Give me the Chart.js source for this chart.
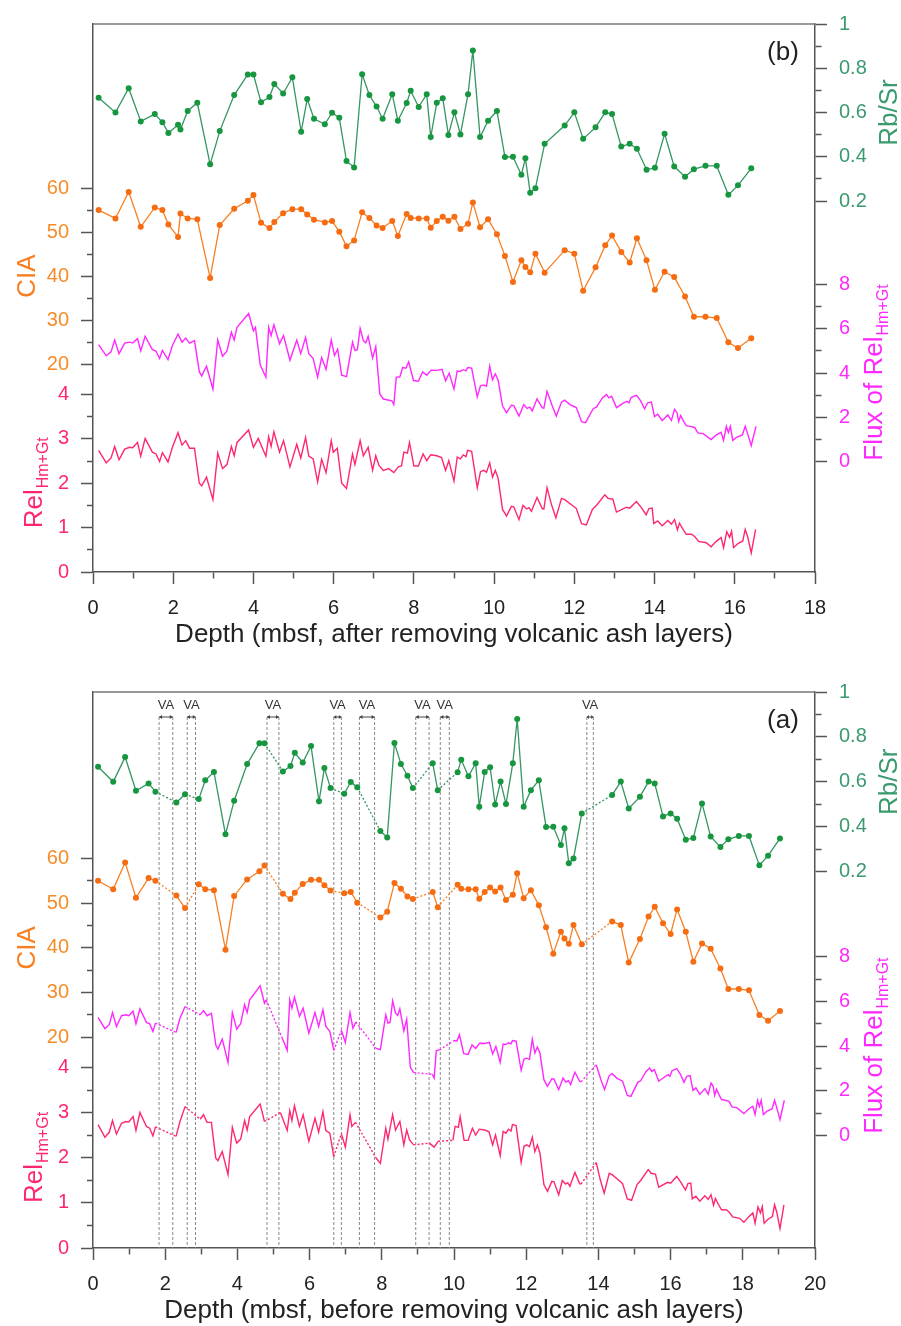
<!DOCTYPE html>
<html>
<head>
<meta charset="utf-8">
<script src="https://cdn.jsdelivr.net/npm/chart.js@4.4.1/dist/chart.umd.min.js"></script>
<style>
  body { margin: 0; background: #fff; }
  canvas { display: block; }
</style>
</head>
<body>
<canvas id="chartB" width="901" height="663"></canvas>
<canvas id="chartA" width="901" height="663"></canvas>
<script>
// ---- data, depth in mbsf after removing the ash layers (panel b) ----
const depthPts = [0.14, 0.56, 0.89, 1.19, 1.54, 1.73, 1.88, 2.12, 2.18, 2.36,
  2.60, 2.92, 3.16, 3.52, 3.86, 4.00, 4.19, 4.40, 4.52, 4.74,
  4.97, 5.19, 5.34, 5.51, 5.78, 5.96, 6.14, 6.32, 6.51, 6.71,
  6.89, 7.07, 7.22, 7.46, 7.60, 7.82, 7.92, 8.12, 8.32, 8.42,
  8.57, 8.72, 8.86, 9.01, 9.16, 9.35, 9.47, 9.65, 9.85, 10.07,
  10.27, 10.47, 10.68, 10.78, 10.90, 11.03, 11.26, 11.76, 12.00, 12.22,
  12.53, 12.77, 12.94, 13.17, 13.38, 13.56, 13.80, 14.01, 14.25, 14.49,
  14.76, 14.98, 15.27, 15.55, 15.84, 16.08, 16.41];
const rbsr = [0.667, 0.600, 0.710, 0.560, 0.593, 0.556, 0.508, 0.545, 0.523, 0.607,
  0.644, 0.366, 0.516, 0.679, 0.772, 0.772, 0.646, 0.670, 0.729, 0.686,
  0.759, 0.513, 0.661, 0.572, 0.547, 0.599, 0.576, 0.381, 0.352, 0.773,
  0.679, 0.627, 0.572, 0.683, 0.563, 0.643, 0.698, 0.625, 0.683, 0.489,
  0.644, 0.665, 0.499, 0.601, 0.501, 0.683, 0.880, 0.489, 0.563, 0.607,
  0.399, 0.400, 0.319, 0.393, 0.237, 0.258, 0.459, 0.541, 0.601, 0.481,
  0.533, 0.601, 0.593, 0.446, 0.459, 0.436, 0.342, 0.350, 0.504, 0.356,
  0.310, 0.344, 0.359, 0.359, 0.228, 0.271, 0.348];
const cia = [55.0, 53.1, 59.1, 51.2, 55.6, 55.0, 51.7, 48.9, 54.2, 53.1,
  52.9, 39.6, 51.6, 55.3, 57.1, 58.4, 52.1, 50.9, 52.3, 54.3,
  55.2, 55.2, 54.0, 52.8, 52.2, 52.5, 50.1, 46.8, 48.1, 54.5,
  53.2, 51.5, 50.9, 52.5, 49.1, 54.1, 53.2, 53.1, 53.1, 51.0,
  52.5, 53.5, 52.6, 53.5, 50.7, 51.9, 56.7, 51.1, 52.9, 49.5,
  44.6, 38.7, 43.6, 42.1, 40.9, 45.1, 40.8, 45.9, 45.1, 36.7,
  42.0, 47.0, 49.2, 45.5, 43.1, 48.6, 43.6, 36.9, 41.0, 39.8,
  35.4, 30.8, 30.8, 30.5, 25.0, 23.7, 25.9];

const depthFlux = [0.14, 0.33, 0.45, 0.54, 0.65, 0.79, 0.91, 0.99, 1.11, 1.19,
  1.30, 1.48, 1.57, 1.66, 1.73, 1.87, 1.98, 2.12, 2.22, 2.31,
  2.41, 2.53, 2.65, 2.71, 2.83, 2.99, 3.11, 3.23, 3.34, 3.45,
  3.52, 3.59, 3.88, 4.00, 4.05, 4.17, 4.31, 4.38, 4.44, 4.51,
  4.65, 4.75, 4.91, 5.08, 5.18, 5.30, 5.38, 5.49, 5.60, 5.70,
  5.81, 5.94, 6.02, 6.10, 6.20, 6.32, 6.47, 6.53, 6.59, 6.66,
  6.74, 6.80, 6.86, 6.97, 7.05, 7.15, 7.24, 7.45, 7.50, 7.56,
  7.65, 7.72, 7.80, 7.87, 7.99, 8.11, 8.22, 8.32, 8.43, 8.57,
  8.70, 8.79, 8.88, 9.00, 9.08, 9.15, 9.23, 9.30, 9.34, 9.44,
  9.58, 9.66, 9.74, 9.81, 9.89, 9.96, 10.03, 10.10, 10.21, 10.31,
  10.43, 10.49, 10.62, 10.74, 10.82, 10.89, 10.95, 11.07, 11.20, 11.24,
  11.32, 11.45, 11.55, 11.68, 11.76, 11.89, 12.05, 12.18, 12.28, 12.47,
  12.55, 12.70, 12.80, 12.86, 12.93, 13.05, 13.21, 13.31, 13.36, 13.42,
  13.55, 13.65, 13.75, 13.83, 13.92, 14.00, 14.08, 14.19, 14.33, 14.42,
  14.50, 14.56, 14.60, 14.65, 14.72, 14.79, 14.89, 15.00, 15.08, 15.21,
  15.41, 15.54, 15.66, 15.72, 15.79, 15.84, 15.89, 15.95, 16.04, 16.19,
  16.26, 16.32, 16.41, 16.53];
const fluxRel = [5.29, 4.78, 4.96, 5.50, 4.88, 5.36, 5.40, 5.36, 5.56, 5.00,
  5.67, 5.06, 5.00, 4.66, 5.03, 4.61, 5.25, 5.77, 5.40, 5.59,
  5.36, 5.47, 4.06, 3.87, 4.31, 3.27, 5.50, 4.76, 5.00, 5.85,
  5.50, 6.07, 6.70, 5.92, 6.07, 4.36, 3.81, 6.07, 5.70, 6.19,
  5.33, 5.70, 4.58, 5.50, 4.88, 5.62, 4.88, 4.66, 3.81, 4.70,
  4.17, 5.50, 4.80, 5.08, 3.90, 3.84, 5.40, 5.03, 5.06, 6.03,
  5.47, 5.37, 5.67, 4.68, 5.20, 3.05, 2.82, 2.74, 2.57, 3.80,
  3.83, 4.25, 4.22, 4.51, 3.66, 3.63, 4.05, 3.90, 4.13, 4.12,
  4.17, 3.65, 3.99, 3.27, 4.09, 4.07, 4.15, 4.10, 4.25, 4.22,
  2.92, 3.42, 3.46, 3.40, 4.31, 3.69, 3.96, 3.69, 2.50, 2.20,
  2.54, 2.52, 2.05, 2.57, 2.39, 2.45, 2.28, 2.83, 2.43, 2.40,
  3.17, 2.50, 2.05, 2.68, 2.77, 2.57, 2.43, 1.79, 1.75, 2.38,
  2.45, 2.87, 3.02, 2.87, 2.95, 2.43, 2.62, 2.72, 2.65, 2.90,
  2.99, 2.75, 2.38, 2.65, 2.68, 2.02, 2.13, 1.84, 2.10, 1.85,
  2.35, 2.20, 1.80, 2.07, 1.83, 1.61, 1.58, 1.53, 1.28, 1.25,
  0.98, 1.19, 1.31, 0.94, 1.58, 1.30, 1.58, 0.94, 1.08, 1.19,
  1.58, 1.25, 0.71, 1.58];

const depthRel = [0.14, 0.33, 0.45, 0.54, 0.65, 0.79, 0.91, 0.99, 1.11, 1.19,
  1.30, 1.48, 1.57, 1.66, 1.73, 1.87, 1.98, 2.12, 2.22, 2.31,
  2.41, 2.53, 2.65, 2.71, 2.83, 2.99, 3.11, 3.23, 3.34, 3.45,
  3.52, 3.59, 3.88, 4.00, 4.12, 4.31, 4.38, 4.44, 4.51, 4.65,
  4.75, 4.91, 5.08, 5.18, 5.30, 5.38, 5.49, 5.60, 5.70, 5.81,
  5.94, 5.99, 6.09, 6.20, 6.32, 6.47, 6.53, 6.66, 6.74, 6.86,
  6.97, 7.05, 7.13, 7.24, 7.37, 7.50, 7.61, 7.69, 7.75, 7.84,
  7.89, 8.00, 8.11, 8.23, 8.32, 8.42, 8.57, 8.69, 8.79, 8.87,
  9.00, 9.08, 9.16, 9.23, 9.30, 9.34, 9.44, 9.58, 9.66, 9.74,
  9.81, 9.89, 9.96, 10.03, 10.10, 10.21, 10.31, 10.43, 10.49, 10.62,
  10.72, 10.81, 10.87, 10.93, 11.07, 11.20, 11.24, 11.32, 11.43, 11.54,
  11.68, 11.76, 12.01, 12.05, 12.18, 12.30, 12.45, 12.55, 12.76, 12.84,
  12.96, 13.05, 13.30, 13.38, 13.55, 13.67, 13.79, 13.86, 13.94, 13.98,
  14.08, 14.19, 14.33, 14.42, 14.50, 14.57, 14.62, 14.71, 14.79, 14.92,
  15.00, 15.10, 15.29, 15.41, 15.54, 15.66, 15.72, 15.80, 15.87, 15.92,
  15.97, 16.08, 16.20, 16.26, 16.32, 16.41, 16.52];
const relHmGt = [2.74, 2.46, 2.57, 2.83, 2.53, 2.77, 2.81, 2.80, 2.92, 2.61,
  3.01, 2.70, 2.66, 2.49, 2.69, 2.48, 2.81, 3.14, 2.86, 2.96,
  2.79, 2.79, 2.00, 1.94, 2.14, 1.63, 2.68, 2.33, 2.42, 2.83,
  2.62, 2.92, 3.20, 2.81, 3.01, 2.61, 3.05, 2.83, 3.16, 2.70,
  2.96, 2.37, 2.88, 2.57, 3.03, 2.61, 2.55, 2.03, 2.54, 2.24,
  2.96, 2.70, 2.79, 2.00, 1.88, 2.66, 2.42, 2.96, 2.62, 2.81,
  2.29, 2.62, 2.40, 2.29, 2.33, 2.24, 2.37, 2.39, 2.70, 2.68,
  2.92, 2.39, 2.39, 2.66, 2.51, 2.64, 2.62, 2.58, 2.29, 2.51,
  2.05, 2.59, 2.55, 2.64, 2.60, 2.74, 2.72, 1.90, 2.26, 2.29,
  2.25, 2.46, 2.14, 2.29, 2.11, 1.41, 1.26, 1.48, 1.47, 1.18,
  1.50, 1.42, 1.45, 1.37, 1.68, 1.43, 1.42, 1.90, 1.52, 1.22,
  1.66, 1.63, 1.46, 1.43, 1.09, 1.06, 1.41, 1.50, 1.74, 1.66,
  1.64, 1.35, 1.46, 1.44, 1.59, 1.45, 1.29, 1.43, 1.44, 1.09,
  1.15, 1.04, 1.16, 1.08, 1.18, 0.95, 1.10, 0.96, 0.85, 0.85,
  0.80, 0.69, 0.66, 0.57, 0.69, 0.78, 0.55, 0.91, 0.78, 0.92,
  0.55, 0.64, 0.70, 0.96, 0.80, 0.43, 0.96];

// volcanic ash layers: drawn intervals in panel (a) depth
const vaStart = [1.83, 2.61, 4.82, 6.67, 7.38, 8.94, 9.62, 13.68];
const vaEnd   = [2.21, 2.84, 5.15, 6.88, 7.80, 9.31, 9.87, 13.86];
// where each layer was cut out in panel (b) depth, and the total depth added back below it
const vaBreakB = [1.80, 2.15, 4.10, 5.65, 6.17, 7.30, 7.65, 11.30];
const vaShift  = [0.43, 0.75, 1.07, 1.18, 1.64, 1.95, 2.28, 2.62];

// ticks
const relMajor = [0, 1, 2, 3, 4], relMinor = [0.5, 1.5, 2.5, 3.5];
const ciaMajor = [20, 30, 40, 50, 60], ciaMinor = [25, 35, 45, 55];
const rbMajor = [0.2, 0.4, 0.6, 0.8, 1], rbMinor = [0.3, 0.5, 0.7, 0.9];
const fluxMajor = [0, 2, 4, 6, 8], fluxMinor = [1, 3, 5, 7];
const xMajorB = [0, 2, 4, 6, 8, 10, 12, 14, 16, 18], xMinorB = [1, 3, 5, 7, 9, 11, 13, 15, 17];
const xMajorA = [0, 2, 4, 6, 8, 10, 12, 14, 16, 18, 20], xMinorA = [1, 3, 5, 7, 9, 11, 13, 15, 17, 19];

// all four y axes share the same plot height
const REL_RANGE = [0, 12.35];
const CIA_RANGE = [-27.1, 97.2];
const RB_RANGE = [-1.476, 1];
const FLUX_RANGE = [-5.03, 19.84];

const FONT = '"Liberation Sans", Arial, Helvetica, sans-serif';
const GREEN_LINE = 'rgb(52,150,98)', GREEN_PT = 'rgb(22,150,62)', GREEN_TXT = 'rgb(58,154,110)';
const ORANGE_LINE = 'rgb(247,128,36)', ORANGE_PT = 'rgb(245,108,18)', ORANGE_TXT = 'rgb(246,140,40)';
const MAGENTA = 'rgb(255,40,255)';
const ROSE = 'rgb(255,40,110)';
const AXIS = '#555';

Chart.defaults.font.family = FONT;

function remap(v, from, to) {
  return to[0] + (v - from[0]) / (from[1] - from[0]) * (to[1] - to[0]);
}
function layerCount(d) {
  return vaBreakB.filter(b => d > b).length;
}
function toDepthA(d) {
  const n = layerCount(d);
  return n ? d + vaShift[n - 1] : d;
}
function points(depths, vals, before) {
  return depths.map((d, i) => ({ x: before ? toDepthA(d) : d, y: vals[i] }));
}
function dashAcross(depths) {
  return ctx => layerCount(depths[ctx.p0DataIndex]) !== layerCount(depths[ctx.p1DataIndex]) ? [2, 2] : undefined;
}
function tickSet(major, minor, color, conv) {
  return major.map(v => ({ value: conv(v), lbl: String(v), mnr: false, c: color }))
    .concat(minor.map(v => ({ value: conv(v), lbl: '', mnr: true, c: color })));
}

function vtitle(ctx, x, yc, main, sub, color) {
  ctx.save();
  ctx.fillStyle = color;
  ctx.font = `26px ${FONT}`;
  const wm = ctx.measureText(main).width;
  let ws = 0;
  if (sub) { ctx.font = `16px ${FONT}`; ws = ctx.measureText(sub).width; }
  ctx.translate(x, yc);
  ctx.rotate(-Math.PI / 2);
  ctx.textAlign = 'left';
  ctx.textBaseline = 'alphabetic';
  const x0 = -(wm + ws) / 2;
  ctx.font = `26px ${FONT}`;
  ctx.fillText(main, x0, 0);
  if (sub) { ctx.font = `16px ${FONT}`; ctx.fillText(sub, x0 + wm + 1, 6); }
  ctx.restore();
}

function drawVA(chart) {
  const { ctx, chartArea: ca, scales: { x } } = chart;
  const yArrow = ca.top + 25;
  ctx.save();
  vaStart.forEach((s0, i) => {
    const xs = x.getPixelForValue(s0), xe = x.getPixelForValue(vaEnd[i]);
    ctx.strokeStyle = '#888';
    ctx.lineWidth = 1;
    ctx.setLineDash([3, 2]);
    [xs, xe].forEach(px => {
      ctx.beginPath(); ctx.moveTo(px, yArrow); ctx.lineTo(px, ca.bottom); ctx.stroke();
    });
    ctx.setLineDash([]);
    ctx.strokeStyle = '#444';
    ctx.beginPath(); ctx.moveTo(xs, yArrow); ctx.lineTo(xe, yArrow); ctx.stroke();
    const h = Math.min(3, (xe - xs) / 3);
    ctx.fillStyle = '#444';
    ctx.beginPath(); ctx.moveTo(xs, yArrow); ctx.lineTo(xs + h, yArrow - 2); ctx.lineTo(xs + h, yArrow + 2); ctx.fill();
    ctx.beginPath(); ctx.moveTo(xe, yArrow); ctx.lineTo(xe - h, yArrow - 2); ctx.lineTo(xe - h, yArrow + 2); ctx.fill();
    ctx.font = `13px ${FONT}`;
    ctx.textAlign = 'center';
    ctx.textBaseline = 'middle';
    ctx.fillStyle = '#333';
    ctx.fillText('VA', (xs + xe) / 2, ca.top + 13);
  });
  ctx.restore();
}

const decor = {
  id: 'decor',
  beforeDatasetsDraw(chart, args, o) {
    if (o.va) drawVA(chart);
  },
  afterDraw(chart, args, o) {
    const { ctx, chartArea: ca, scales: s } = chart;
    ctx.save();
    ctx.strokeStyle = '#777';
    ctx.lineWidth = 1.5;
    ctx.beginPath(); ctx.moveTo(ca.left, ca.top); ctx.lineTo(ca.right, ca.top); ctx.stroke();
    ctx.fillStyle = '#222';
    ctx.font = `26px ${FONT}`;
    ctx.textAlign = 'center';
    ctx.textBaseline = 'middle';
    ctx.fillText(o.tag, ca.right - 32, ca.top + 29);
    ctx.restore();
    vtitle(ctx, 35, s.yCIA.getPixelForValue(40), 'CIA', '', ORANGE_LINE);
    vtitle(ctx, 41.5, s.yRel.getPixelForValue(2), 'Rel', 'Hm+Gt', ROSE);
    vtitle(ctx, 897, s.yRb.getPixelForValue(0.6), 'Rb/Sr', '', GREEN_TXT);
    vtitle(ctx, 882, s.yFlux.getPixelForValue(4), 'Flux of Rel', 'Hm+Gt', MAGENTA);
  }
};

const tickLabel = (v, i, t) => t[i].lbl;
const tickDash = side => ctx => (ctx.tick && ctx.tick.mnr) ? (side === 'left' ? [0, 6, 6, 40] : [6, 40]) : [];

function makePanel(id, cfg) {
  const before = cfg.before;
  const datasets = [
    { label: 'Rb/Sr', data: points(depthPts, rbsr, before), yAxisID: 'yRb',
      borderColor: GREEN_LINE, borderWidth: 1.3, pointRadius: 3, pointBorderWidth: 0,
      pointBackgroundColor: GREEN_PT },
    { label: 'CIA', data: points(depthPts, cia, before), yAxisID: 'yCIA',
      borderColor: ORANGE_LINE, borderWidth: 1.3, pointRadius: 3, pointBorderWidth: 0,
      pointBackgroundColor: ORANGE_PT },
    { label: 'Flux of Rel', data: points(depthFlux, fluxRel, before), yAxisID: 'yFlux',
      borderColor: MAGENTA, borderWidth: 1.4, pointRadius: 0 },
    { label: 'Rel', data: points(depthRel, relHmGt, before), yAxisID: 'yRel',
      borderColor: ROSE, borderWidth: 1.4, pointRadius: 0 }
  ];
  if (before) {
    datasets[0].segment = { borderDash: dashAcross(depthPts) };
    datasets[1].segment = { borderDash: dashAcross(depthPts) };
    datasets[2].segment = { borderDash: dashAcross(depthFlux) };
    datasets[3].segment = { borderDash: dashAcross(depthRel) };
  }

  return new Chart(document.getElementById(id), {
    type: 'line',
    data: { datasets },
    plugins: [decor],
    options: {
      responsive: false,
      animation: false,
      events: [],
      devicePixelRatio: 1,
      layout: { padding: { top: cfg.padTop, left: 0, right: 0, bottom: 0 } },
      plugins: {
        legend: { display: false },
        tooltip: { enabled: false },
        decor: { va: before, tag: cfg.tag }
      },
      scales: {
        x: {
          type: 'linear', min: 0, max: cfg.xMax,
          afterBuildTicks: s => { s.ticks = tickSet(cfg.xMajor, cfg.xMinor, '#222', v => v); },
          afterFit: s => { s.height = cfg.axisH; },
          ticks: { autoSkip: false, maxRotation: 0, callback: tickLabel, color: '#222',
            font: { size: 20 }, padding: 12 },
          grid: { drawOnChartArea: false, tickLength: 12, tickColor: AXIS, tickWidth: 1.5,
            tickBorderDash: tickDash('bottom') },
          border: { color: AXIS, width: 1.5 },
          title: { display: true, text: cfg.xTitle, color: '#222', font: { size: 26 },
            padding: { top: 0, bottom: cfg.titlePad } }
        },
        yRel: {
          type: 'linear', position: 'left', min: REL_RANGE[0], max: REL_RANGE[1],
          afterBuildTicks: s => {
            s.ticks = tickSet(relMajor, relMinor, ROSE, v => v)
              .concat(tickSet(ciaMajor, ciaMinor, ORANGE_TXT, v => remap(v, CIA_RANGE, REL_RANGE)));
          },
          afterFit: s => { s.width = 93; },
          ticks: { autoSkip: false, callback: tickLabel, color: c => c.tick.c,
            font: { size: 20 }, padding: 12 },
          grid: { drawOnChartArea: false, tickLength: 12, tickColor: AXIS, tickWidth: 1.5,
            tickBorderDash: tickDash('left') },
          border: { color: AXIS, width: 1.5 }
        },
        yRb: {
          type: 'linear', position: 'right', min: RB_RANGE[0], max: RB_RANGE[1],
          afterBuildTicks: s => {
            s.ticks = tickSet(rbMajor, rbMinor, GREEN_TXT, v => v)
              .concat(tickSet(fluxMajor, fluxMinor, MAGENTA, v => remap(v, FLUX_RANGE, RB_RANGE)));
          },
          afterFit: s => { s.width = 86; },
          ticks: { autoSkip: false, callback: tickLabel, color: c => c.tick.c,
            font: { size: 20 }, padding: 12 },
          grid: { drawOnChartArea: false, tickLength: 12, tickColor: AXIS, tickWidth: 1.5,
            tickBorderDash: tickDash('right') },
          border: { color: AXIS, width: 1.5 }
        },
        yCIA: { type: 'linear', display: false, min: CIA_RANGE[0], max: CIA_RANGE[1] },
        yFlux: { type: 'linear', display: false, min: FLUX_RANGE[0], max: FLUX_RANGE[1] }
      }
    }
  });
}

makePanel('chartB', {
  before: false, tag: '(b)', xMax: 18, xMajor: xMajorB, xMinor: xMinorB,
  xTitle: 'Depth (mbsf, after removing volcanic ash layers)',
  padTop: 15, axisH: 91, titlePad: 13
});
makePanel('chartA', {
  before: true, tag: '(a)', xMax: 20, xMajor: xMajorA, xMinor: xMinorA,
  xTitle: 'Depth (mbsf, before removing volcanic ash layers)',
  padTop: 29, axisH: 78, titlePad: 0
});
</script>
</body>
</html>
